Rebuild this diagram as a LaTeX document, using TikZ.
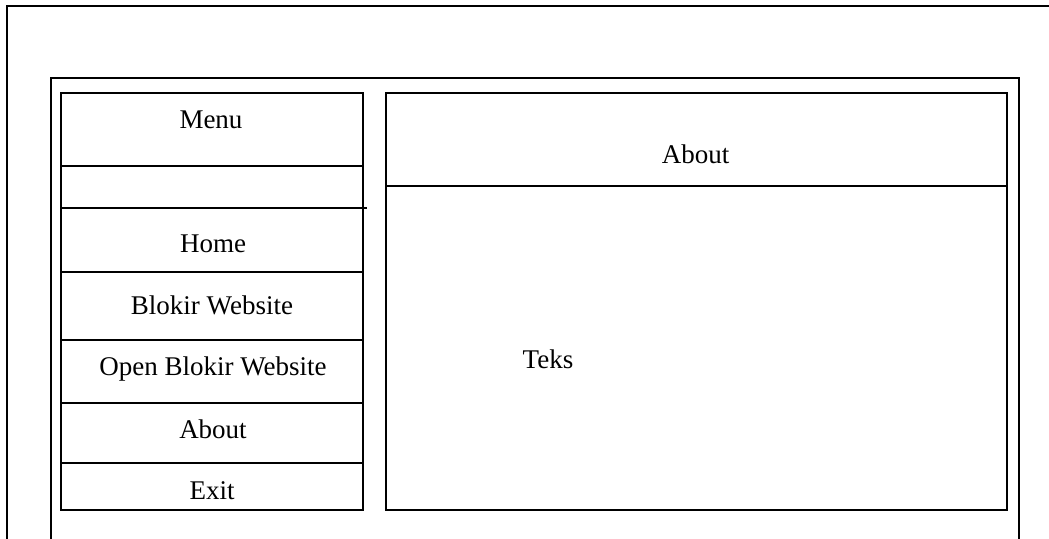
\documentclass[tikz,border=0pt]{standalone}
\usepackage{fontspec}
\setmainfont{Liberation Serif}
\begin{document}
\begin{tikzpicture}[x=1pt,y=-1pt,
  frame/.style={draw=black,line width=1.6pt},
  panel/.style={draw=black,line width=1.6pt,rectangle,inner sep=0pt},
  sep/.style={draw=black,line width=1.6pt},
  label/.style={anchor=base,inner sep=0pt,font=\fontsize{27}{32}\selectfont}]
  \useasboundingbox (0,0) rectangle (1049,538);
  % window frames (open at the bottom and right)
  \coordinate (wbl) at (7,540);
  \coordinate (wtl) at (7,6);
  \coordinate (wtr) at (1052,6);
  \draw[frame] (wbl) -- (wtl) -- (wtr);
  \coordinate (fbl) at (51,540);
  \coordinate (ftl) at (51,78);
  \coordinate (ftr) at (1019,78);
  \coordinate (fbr) at (1019,540);
  \draw[frame] (fbl) -- (ftl) -- (ftr) -- (fbr);
  % menu panel and content panel
  \node[panel,minimum width=302pt,minimum height=417pt] (menu) at (212,301.5) {};
  \node[panel,minimum width=621pt,minimum height=417pt] (content) at (696.5,301.5) {};
  % menu separators
  \coordinate (m1) at (0,166);
  \coordinate (m2) at (0,208);
  \coordinate (m3) at (0,272);
  \coordinate (m4) at (0,340);
  \coordinate (m5) at (0,403);
  \coordinate (m6) at (0,463);
  \draw[sep] (menu.west |- m1) -- (menu.east |- m1);
  \draw[sep] (menu.west |- m2) -- ([xshift=3pt]menu.east |- m2);
  \draw[sep] (menu.west |- m3) -- (menu.east |- m3);
  \draw[sep] (menu.west |- m4) -- (menu.east |- m4);
  \draw[sep] (menu.west |- m5) -- (menu.east |- m5);
  \draw[sep] (menu.west |- m6) -- (menu.east |- m6);
  % content header separator
  \coordinate (c1) at (0,186);
  \draw[sep] (content.west |- c1) -- (content.east |- c1);
  % labels
  \node[label] (tmenu) at (211,128) {Menu};
  \node[label] (thome) at (213,252) {Home};
  \node[label] (tblok) at (212,314) {Blokir Website};
  \node[label] (topen) at (213,375.5) {Open Blokir Website};
  \node[label] (tabout) at (213,438) {About};
  \node[label] (texit) at (212,499) {Exit};
  \node[label] (thead) at (695.5,163) {About};
  \node[label] (tteks) at (548,368) {Teks};
\end{tikzpicture}
\end{document}
